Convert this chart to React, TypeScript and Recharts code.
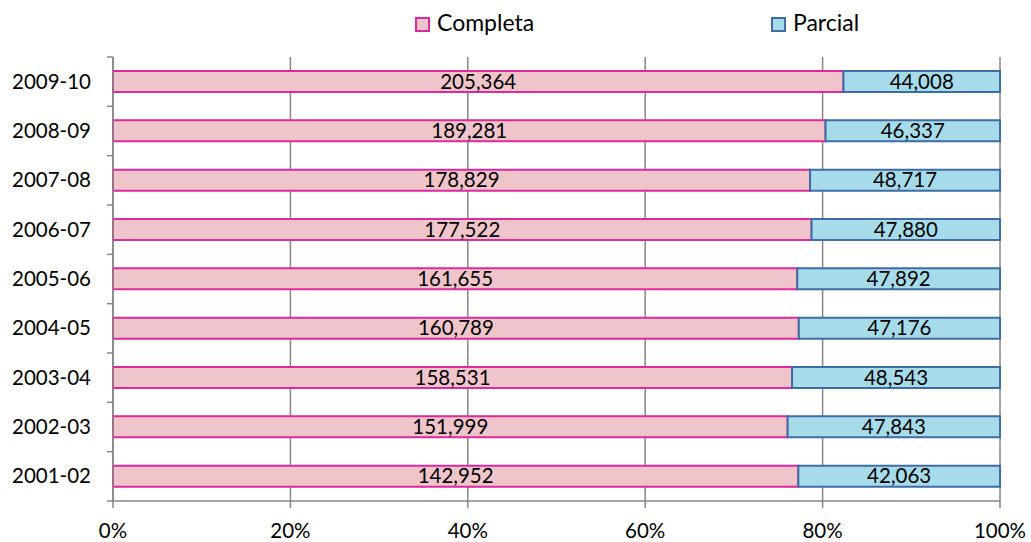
import React from 'react';
import { BarChart, Bar, XAxis, YAxis, CartesianGrid, LabelList } from 'recharts';

const years = ['2001-02', '2002-03', '2003-04', '2004-05', '2005-06', '2006-07', '2007-08', '2008-09', '2009-10'];
const completa = [142952, 151999, 158531, 160789, 161655, 177522, 178829, 189281, 205364];
const parcial = [42063, 47843, 48543, 47176, 47892, 47880, 48717, 46337, 44008];
const xTicks = [0, 0.2, 0.4, 0.6, 0.8, 1];

const W = 1031;
const H = 542;
const MARGIN = { top: 57, right: 31, bottom: 0, left: 0 };
const X_AXIS_H = 41;
const Y_AXIS_W = 113;
const BAND = (H - MARGIN.top - MARGIN.bottom - X_AXIS_H) / years.length;

const FONT = 'Lato, "Open Sans", sans-serif';
const AXIS = '#868686';
const PINK = '#F0C5CA';
const PINK_EDGE = '#DC2AA0';
const BLUE = '#A6DCEA';
const BLUE_EDGE = '#3F6CA3';

const data = years.map((year, i) => ({ year, completa: completa[i], parcial: parcial[i] }));

const fmt = (v: number) => v.toLocaleString('en-US');

// category labels plus Excel-style tick marks on the band edges
function YTick(props: any) {
  const { y, payload, index } = props;
  const ax = Y_AXIS_W;
  return (
    <g>
      <text x={ax - 22} y={y} dy={7} textAnchor="end" fontSize={20.5} fontFamily={FONT} fill="#000">
        {payload.value}
      </text>
      <line x1={ax - 6} x2={ax} y1={y + BAND / 2} y2={y + BAND / 2} stroke={AXIS} strokeWidth={1.5} />
      {index === years.length - 1 && (
        <line x1={ax - 6} x2={ax} y1={y - BAND / 2} y2={y - BAND / 2} stroke={AXIS} strokeWidth={1.5} />
      )}
    </g>
  );
}

function Swatch({ fill, edge }: { fill: string; edge: string }) {
  return (
    <span style={{ display: 'inline-block', width: 11, height: 11, background: fill, border: `2px solid ${edge}`, marginRight: 7, verticalAlign: -1 }} />
  );
}

const legendText = { position: 'absolute' as const, top: 7, fontSize: 23, lineHeight: '30px', whiteSpace: 'nowrap' as const };

export default function App() {
  return (
    <div style={{ position: 'absolute', left: 0, top: 0, width: W, height: H, background: '#fff', fontFamily: FONT }}>
      <div style={{ ...legendText, left: 415 }}>
        <Swatch fill={PINK} edge={PINK_EDGE} />Completa
      </div>
      <div style={{ ...legendText, left: 771 }}>
        <Swatch fill={BLUE} edge={BLUE_EDGE} />Parcial
      </div>
      <BarChart width={W} height={H} data={data} layout="vertical" stackOffset="expand" margin={MARGIN} barSize={21}>
        <CartesianGrid horizontal={false} stroke={AXIS} strokeWidth={1.5} />
        <XAxis
          type="number"
          domain={[0, 1]}
          ticks={xTicks}
          tickFormatter={(v: number) => `${Math.round(v * 100)}%`}
          height={X_AXIS_H}
          axisLine={{ stroke: AXIS, strokeWidth: 1.5 }}
          tickLine={{ stroke: AXIS, strokeWidth: 1.5 }}
          tickSize={7}
          tick={{ fontSize: 20.5, fontFamily: FONT, fill: '#000', dy: 13 }}
          interval={0}
        />
        <YAxis
          type="category"
          dataKey="year"
          reversed
          width={Y_AXIS_W}
          axisLine={{ stroke: AXIS, strokeWidth: 1.5 }}
          tickLine={false}
          tick={<YTick />}
          interval={0}
        />
        <Bar dataKey="completa" stackId="a" fill={PINK} stroke={PINK_EDGE} strokeWidth={2} isAnimationActive={false}>
          <LabelList dataKey="completa" position="center" formatter={(v: any) => fmt(Number(v))} style={{ fontSize: 20.5, fontFamily: FONT, fill: '#000' }} />
        </Bar>
        <Bar dataKey="parcial" stackId="a" fill={BLUE} stroke={BLUE_EDGE} strokeWidth={2} isAnimationActive={false}>
          <LabelList dataKey="parcial" position="center" formatter={(v: any) => fmt(Number(v))} style={{ fontSize: 20.5, fontFamily: FONT, fill: '#000' }} />
        </Bar>
      </BarChart>
    </div>
  );
}
